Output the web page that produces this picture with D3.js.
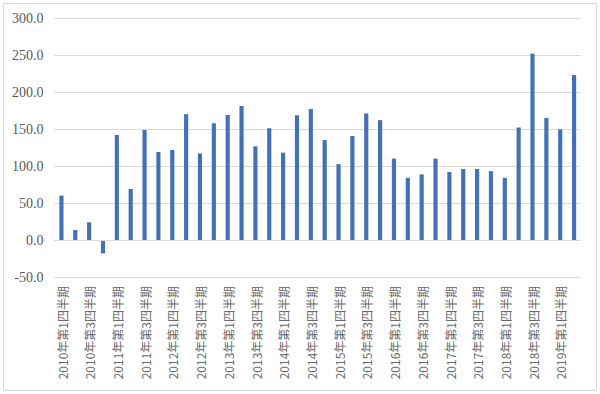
<!DOCTYPE html>
<html>
<head>
<meta charset="utf-8">
<script src="https://cdn.jsdelivr.net/npm/d3@7"></script>
<style>
  body { margin: 0; background: #fff; }
  svg { display: block; }
</style>
</head>
<body>
<div id="chart"></div>
<script>
// quarters 2010Q1 .. 2019Q2
const years = [2010, 2011, 2012, 2013, 2014, 2015, 2016, 2017, 2018, 2019];
const quarters = [1, 2, 3, 4];
const categories = [];
years.forEach((y) => quarters.forEach((q) => {
  if (y === 2019 && q > 2) return;
  categories.push(`${y}年第${q}四半期`);
}));
const values = [
  60, 13.5, 24, -18, 142, 69, 148.6, 119, 121.6, 170,
  117, 157.7, 169, 181, 126.6, 151, 118, 168.5, 177, 135,
  102.7, 140.5, 171, 162, 110, 84, 88.7, 110, 92, 96,
  96, 93, 84, 152, 251.8, 165, 149.5, 223
];
const yTicks = [-50, 0, 50, 100, 150, 200, 250, 300];

const data = categories.map((c, i) => ({ cat: c, value: values[i] }));

const width = 600, height = 394;
const margin = { top: 18, right: 19, bottom: 117, left: 54.5 };
const innerW = width - margin.left - margin.right;
const innerH = height - margin.top - margin.bottom;

const svg = d3.select("#chart").append("svg")
  .attr("width", width)
  .attr("height", height);

// outer frame
svg.append("rect")
  .attr("x", 3.5).attr("y", 3.5)
  .attr("width", 593).attr("height", 387)
  .attr("fill", "#fff")
  .attr("stroke", "#d9d9d9");

const chart = svg.append("g")
  .attr("transform", `translate(${margin.left},${margin.top})`);

const x = d3.scaleBand().domain(categories).range([0, innerW]).paddingInner(0.7).paddingOuter(0.35);
const y = d3.scaleLinear().domain([-50, 300]).range([innerH, 0]);

// gridlines
chart.append("g")
  .selectAll("line")
  .data(yTicks)
  .join("line")
  .attr("x1", 0).attr("x2", innerW)
  .attr("y1", (d) => Math.round(y(d)) + 0.5)
  .attr("y2", (d) => Math.round(y(d)) + 0.5)
  .attr("stroke", "#d9d9d9");

// y axis labels
const yAxis = d3.axisLeft(y).tickValues(yTicks).tickSize(0).tickPadding(11)
  .tickFormat((d) => d.toFixed(1));
chart.append("g")
  .call(yAxis)
  .call((g) => g.select(".domain").remove())
  .selectAll("text")
  .attr("fill", "#595959")
  .style("font-family", "'Liberation Serif', serif")
  .style("font-size", "14px");

// bars
chart.selectAll(".bar")
  .data(data)
  .join("rect")
  .attr("class", "bar")
  .attr("x", (d) => x(d.cat))
  .attr("width", x.bandwidth())
  .attr("y", (d) => y(Math.max(0, d.value)))
  .attr("height", (d) => Math.abs(y(d.value) - y(0)))
  .attr("fill", "#4470b8");

// zero line
chart.append("line")
  .attr("x1", 0).attr("x2", innerW)
  .attr("y1", Math.round(y(0)) + 0.5).attr("y2", Math.round(y(0)) + 0.5)
  .attr("stroke", "#d9d9d9");

// x axis labels, every other quarter
const xAxis = d3.axisBottom(x)
  .tickValues(categories.filter((d, i) => i % 2 === 0))
  .tickSize(0);
const xg = chart.append("g")
  .attr("transform", `translate(0,${innerH})`)
  .call(xAxis);
xg.select(".domain").remove();
xg.selectAll("text")
  .attr("transform", "rotate(-90)")
  .attr("x", -9)
  .attr("y", 0)
  .attr("dy", "0.35em")
  .attr("dx", 0)
  .style("text-anchor", "end")
  .attr("fill", "#6a6a6a")
  .style("font-family", "'Noto Sans CJK JP', sans-serif")
  .style("font-size", "12px");
xg.selectAll(".tick").attr("transform", (d) => `translate(${x(d) + x.bandwidth() / 2 + 2},0)`);
</script>
</body>
</html>
